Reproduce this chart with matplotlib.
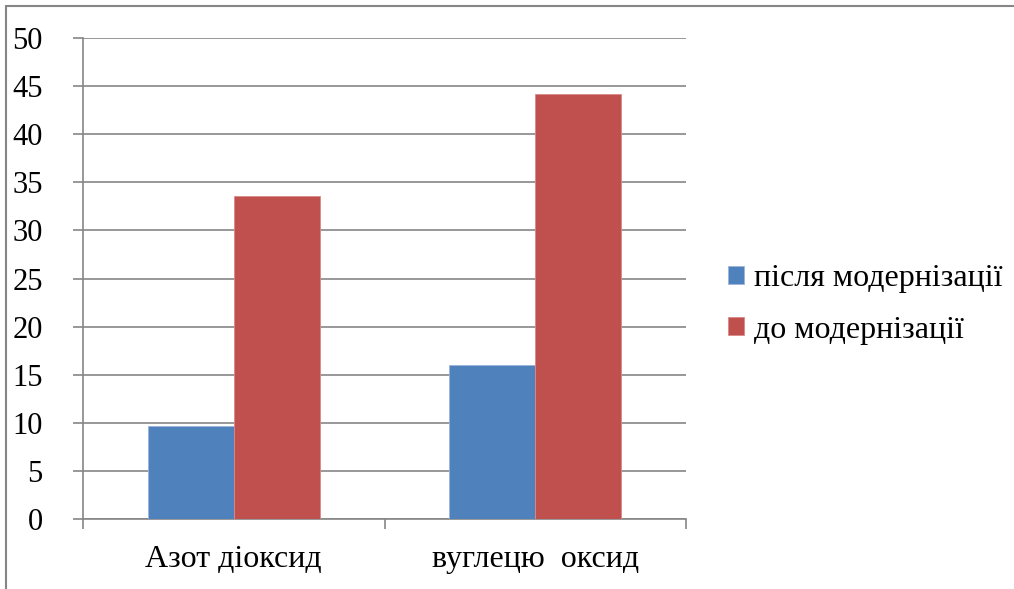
import matplotlib
matplotlib.use('Agg')
import numpy as np
from matplotlib import pyplot as plt
from matplotlib.patches import Rectangle

plt.rcParams['font.family'] = ['Liberation Serif', 'DejaVu Serif']

# emissions before/after upgrade
categories = ['Азот діоксид', 'вуглецю  оксид']
series_names = ['після модернізації', 'до модернізації']
after_vals = [9.7, 16.0]
before_vals = [33.6, 44.2]
colors = ['#4F81BD', '#C0504D']
yticks = [0, 5, 10, 15, 20, 25, 30, 35, 40, 45, 50]

fig = plt.figure(figsize=(10.14, 5.89), dpi=100)
ax = fig.add_axes([0.0819, 0.1188, 0.5946, 0.8167])

x = np.arange(len(categories))
w = 1 / 3.5  # gap width 150%
ax.bar(x - w / 2, after_vals, w, color=colors[0], edgecolor='#9DB5D9', linewidth=0.6,
       label=series_names[0], zorder=3)
ax.bar(x + w / 2, before_vals, w, color=colors[1], edgecolor='#D98A88', linewidth=0.6,
       label=series_names[1], zorder=3)

ax.set_xlim(-0.5, len(categories) - 0.5)
ax.set_ylim(0, 50)
ax.set_yticks(yticks)
ax.set_yticklabels([str(v) for v in yticks], fontsize=22)
ax.yaxis.grid(True, color='#868686', linewidth=1.2, zorder=0)

ax.set_xticks(x)
ax.set_xticklabels(categories, fontsize=23)
ax.set_xticks([-0.5, 0.5, 1.5], minor=True)
ax.tick_params(axis='x', which='major', length=0, pad=19)
ax.tick_params(axis='x', which='minor', length=7, color='#868686', width=1.2)
ax.tick_params(axis='y', length=7, color='#868686', width=1.2, pad=22)

for s in ['top', 'right']:
    ax.spines[s].set_visible(False)
for s in ['left', 'bottom']:
    ax.spines[s].set_color('#868686')
    ax.spines[s].set_linewidth(1.2)

fig.legend(loc='center left', bbox_to_anchor=(0.718, 0.483), frameon=False,
           fontsize=23, handlelength=0.5, handleheight=0.5, handletextpad=0.3,
           labelspacing=0.7, borderpad=0, borderaxespad=0)

# outer chart frame
fig.patches.append(Rectangle((6 / 1014, -0.1), 1.2, 1 - 6 / 589 + 0.1,
                             transform=fig.transFigure, fill=False,
                             edgecolor='#868686', linewidth=1.5))

fig.savefig('out.png', dpi=100)
